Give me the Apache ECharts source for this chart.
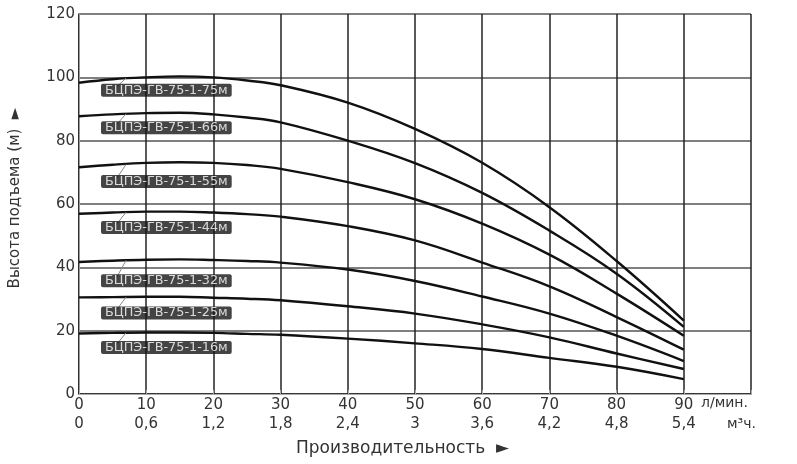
<!DOCTYPE html>
<html>
<head>
<meta charset="utf-8">
<script src="https://cdn.jsdelivr.net/npm/echarts@6/dist/echarts.min.js"></script>
<style>
	html, body { margin: 0; padding: 0; background: #fff; }
	#chart { width: 797px; height: 464px; }
</style>
</head>
<body>
<div id="chart"></div>
<script>
// подача, л/мин
var flow = [0, 5, 10, 15, 20, 25, 30, 40, 50, 60, 70, 80, 90];

// напор, м
var h75 = [98.3, 99.4, 100.0, 100.3, 100.0, 99.0, 97.5, 92.0, 83.7, 73.0, 59.0, 42.0, 23.2];
var h66 = [87.7, 88.3, 88.7, 88.8, 88.3, 87.3, 85.8, 80.0, 72.9, 63.5, 51.6, 38.0, 21.2];
var h55 = [71.6, 72.4, 73.0, 73.2, 73.0, 72.3, 71.1, 66.9, 61.5, 53.8, 44.0, 31.7, 18.4];
var h44 = [56.9, 57.3, 57.6, 57.6, 57.3, 56.8, 56.0, 53.0, 48.5, 41.5, 34.0, 24.3, 14.0];
var h32 = [41.7, 42.1, 42.4, 42.5, 42.3, 42.0, 41.5, 39.3, 35.7, 30.8, 25.4, 18.4, 10.4];
var h25 = [30.5, 30.6, 30.7, 30.7, 30.4, 30.1, 29.6, 27.7, 25.4, 22.0, 17.9, 12.8, 7.9];
var h16 = [19.1, 19.3, 19.4, 19.4, 19.3, 19.0, 18.7, 17.5, 16.0, 14.2, 11.4, 8.6, 4.7];

var names = ['БЦПЭ-ГВ-75-1-75м', 'БЦПЭ-ГВ-75-1-66м', 'БЦПЭ-ГВ-75-1-55м', 'БЦПЭ-ГВ-75-1-44м',
	'БЦПЭ-ГВ-75-1-32м', 'БЦПЭ-ГВ-75-1-25м', 'БЦПЭ-ГВ-75-1-16м'];
var heads = [h75, h66, h55, h44, h32, h25, h16];

// подписи и выноски (в единицах осей)
var labelX = 13.0;
var labelY = [95.9, 84.1, 67.1, 52.6, 35.8, 25.6, 14.7];
var leadFrom = [5.6, 1.0];
var leadToX = 7.0;
var leadToY = [99.8, 88.5, 72.5, 57.4, 42.2, 30.6, 19.3];

var m3Factor = 0.06; // л/мин -> м3/ч

function renderChart() {
	var myChart = echarts.init(document.getElementById('chart'));
	var font = 'DejaVu Sans, sans-serif';
	var series = [];

	heads.forEach(function (h, i) {
		series.push({
			name: names[i],
			type: 'line',
			smooth: 0.4,
			symbol: 'none',
			silent: true,
			z: 3,
			lineStyle: { color: '#111', width: 2.4 },
			data: flow.map(function (x, j) { return [x, h[j]]; }),
			markLine: {
				symbol: 'none',
				silent: true,
				label: { show: false },
				lineStyle: { color: '#888', width: 1, type: 'solid' },
				data: [[
					{ coord: [leadFrom[0], labelY[i] + leadFrom[1]] },
					{ coord: [leadToX, leadToY[i]] }
				]]
			}
		});
	});

	series.push({
		type: 'scatter',
		silent: true,
		z: 10,
		symbolSize: 1,
		itemStyle: { color: 'rgba(0,0,0,0)' },
		data: names.map(function (n, i) { return { value: [labelX, labelY[i]], name: n }; }),
		label: {
			show: true,
			position: 'inside',
			formatter: '{b}',
			color: '#fff',
			fontFamily: font,
			fontSize: 12.8,
			backgroundColor: '#151515',
			borderRadius: 2,
			padding: [0, 4, 0, 4],
			lineHeight: 13
		}
	});

	var option = {
		animation: false,
		grid: { left: 79, right: 46, top: 14, bottom: 70 },
		xAxis: [
			{
				type: 'value',
				min: 0,
				max: 100,
				interval: 10,
				position: 'bottom',
				axisLine: { show: true, lineStyle: { color: '#222', width: 1.5 } },
				axisTick: { show: false },
				splitLine: { show: true, lineStyle: { color: '#222', width: 1.5 } },
				axisLabel: {
					color: '#333', fontSize: 15, fontFamily: font, margin: 4,
					formatter: function (v) { return v === 100 ? '' : String(v); }
				}
			},
			{
				type: 'value',
				min: 0,
				max: 100,
				interval: 10,
				position: 'bottom',
				offset: 22,
				axisLine: { show: true, lineStyle: { color: '#aaa', width: 1 } },
				axisTick: { show: true, inside: true, length: 4, lineStyle: { color: '#aaa' } },
				splitLine: { show: false },
				axisLabel: {
					color: '#333', fontSize: 15, fontFamily: font, margin: 1,
					formatter: function (v) {
						if (v === 100) return '';
						return String(+(v * m3Factor).toFixed(1)).replace('.', ',');
					}
				},
				name: 'Производительность  ►',
				nameLocation: 'middle',
				nameGap: 24,
				nameTextStyle: { color: '#333', fontSize: 17, fontFamily: font, padding: [0, 25, 0, 0] }
			}
		],
		yAxis: [
			{
				type: 'value',
				min: 0,
				max: 120,
				interval: 20,
				axisLine: { show: true, lineStyle: { color: '#222', width: 1.5 } },
				axisTick: { show: false },
				splitLine: { show: true, lineStyle: { color: '#555', width: 1.5 } },
				axisLabel: { color: '#333', fontSize: 15, fontFamily: font, margin: 4 }
			},
			{
				type: 'value',
				min: 0,
				max: 120,
				position: 'left',
				offset: 43,
				axisLine: { show: true, lineStyle: { color: '#999', width: 1 } },
				axisTick: { show: false },
				axisLabel: { show: false },
				splitLine: { show: false },
				name: 'Высота подъема (м)  ►',
				nameLocation: 'middle',
				nameRotate: 90,
				nameGap: 13,
				nameTextStyle: { color: '#333', fontSize: 15, fontFamily: font, padding: [0, 0, 0, 12] }
			}
		],
		graphic: [
			{ type: 'text', left: 701, top: 396, style: { text: 'л/мин.', fill: '#333', font: '14px ' + font } },
			{ type: 'text', left: 727, top: 417, style: { text: 'м³ч.', fill: '#333', font: '14px ' + font } }
		],
		series: series
	};
	myChart.setOption(option);
}

renderChart();
</script>
</body>
</html>
